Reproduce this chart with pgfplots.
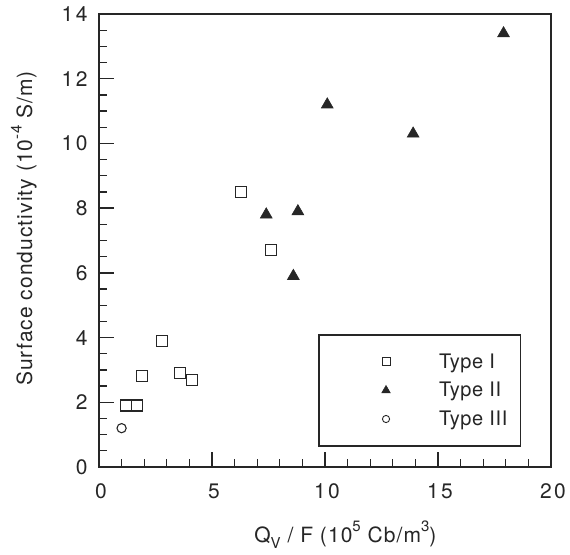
\documentclass[border=0pt]{standalone}
\usepackage{fontspec}
\setmainfont{TeX Gyre Heros}
\newfontfamily\tickfont[LetterSpace=12]{TeX Gyre Heros}
\newfontfamily\labfont[LetterSpace=5]{TeX Gyre Heros}
\newfontfamily\legfont[LetterSpace=3]{TeX Gyre Heros}
\usepackage{pgfplots}
\pgfplotsset{compat=1.18}
\definecolor{ink}{gray}{0.15}
\newcommand{\sups}[1]{\raisebox{0.5em}{\fontsize{15}{15}\selectfont #1}}
\newcommand{\subs}[1]{\raisebox{-0.3em}{\fontsize{15}{15}\selectfont #1}}
\begin{document}
\begin{tikzpicture}
\begin{axis}[
  name=ax,
  scale only axis,
  width=452pt, height=453pt,
  xmin=0, xmax=20, ymin=0, ymax=14,
  xtick={0,5,10,15,20},
  ytick={0,2,4,6,8,10,12,14},
  minor xtick={1,2,3,4,6,7,8,9,11,12,13,14,16,17,18,19},
  minor ytick={0.5,1,1.5,2.5,3,3.5,4.5,5,5.5,6.5,7,7.5,8.5,9,9.5,10.5,11,11.5,12.5,13,13.5},
  tick pos=left,
  tick align=inside,
  major tick length=15pt,
  minor tick length=8pt,
  every tick/.style={ink, line width=1.3pt},
  axis line style={ink, line width=1.6pt},
  /pgf/number format/assume math mode=true,
  tick label style={font=\tickfont\fontsize{21}{24}\selectfont, text=ink},
  xticklabel style={yshift=-13pt, xshift=2pt},
  yticklabel style={xshift=-8pt},
  label style={font=\labfont\fontsize{21}{24}\selectfont, text=ink},
  xlabel={Q\subs{V} / F (10\sups{5} Cb/m\sups{3})},
  ylabel={Surface conductivity (10\sups{-4} S/m)},
  xlabel style={at={(axis description cs:0.545,-0.1656)}, anchor=base},
  ylabel style={at={(axis description cs:-0.166,0.5265)}, anchor=center},
  legend style={
    at={(axis cs:9.7,4.11)}, anchor=north west,
    draw=ink, line width=1.6pt,
    inner xsep=11pt, inner ysep=17pt,
    font=\legfont\fontsize{20}{24}\selectfont, text=ink,
    row sep=8.5pt,
  },
  legend cell align=left,
]
\addplot[only marks, mark=square, mark size=5.5pt, draw=ink, line width=1.1pt,
  legend image code/.code={\path[draw=none, fill=none] (-56pt,0) -- (51pt,0);\draw[ink, line width=0.9pt, mark=square, mark size=4pt] plot coordinates {(0pt,0pt)};}]
  coordinates {(6.3,8.5) (7.6,6.7) (2.8,3.9) (1.9,2.8) (3.6,2.9) (4.1,2.7) (1.2,1.9) (1.7,1.9)};
\addlegendentry{Type I}
\addplot[only marks, mark=triangle*, mark size=6.8pt, draw=ink, fill=ink, line width=0.6pt,
  legend image code/.code={\path[draw=none, fill=none] (-56pt,0) -- (51pt,0);\draw[ink, fill=ink, line width=0.5pt, mark=triangle*, mark size=5pt] plot coordinates {(0pt,0pt)};}]
  coordinates {(7.4,7.8) (8.8,7.9) (8.6,5.9) (10.1,11.2) (13.9,10.3) (17.9,13.4)};
\addlegendentry{Type II}
\addplot[only marks, mark=o, mark size=4.6pt, draw=ink, line width=1.1pt,
  legend image code/.code={\path[draw=none, fill=none] (-56pt,0) -- (51pt,0);\draw[ink, line width=0.9pt, mark=o, mark size=3.6pt] plot coordinates {(0pt,0pt)};}]
  coordinates {(1.0,1.2)};
\addlegendentry{Type III}
\end{axis}
\pgfresetboundingbox
\path[use as bounding box] ([shift={(-99pt,-87pt)}]ax.south west) rectangle ([shift={(19pt,14pt)}]ax.north east);
\end{tikzpicture}
\end{document}
